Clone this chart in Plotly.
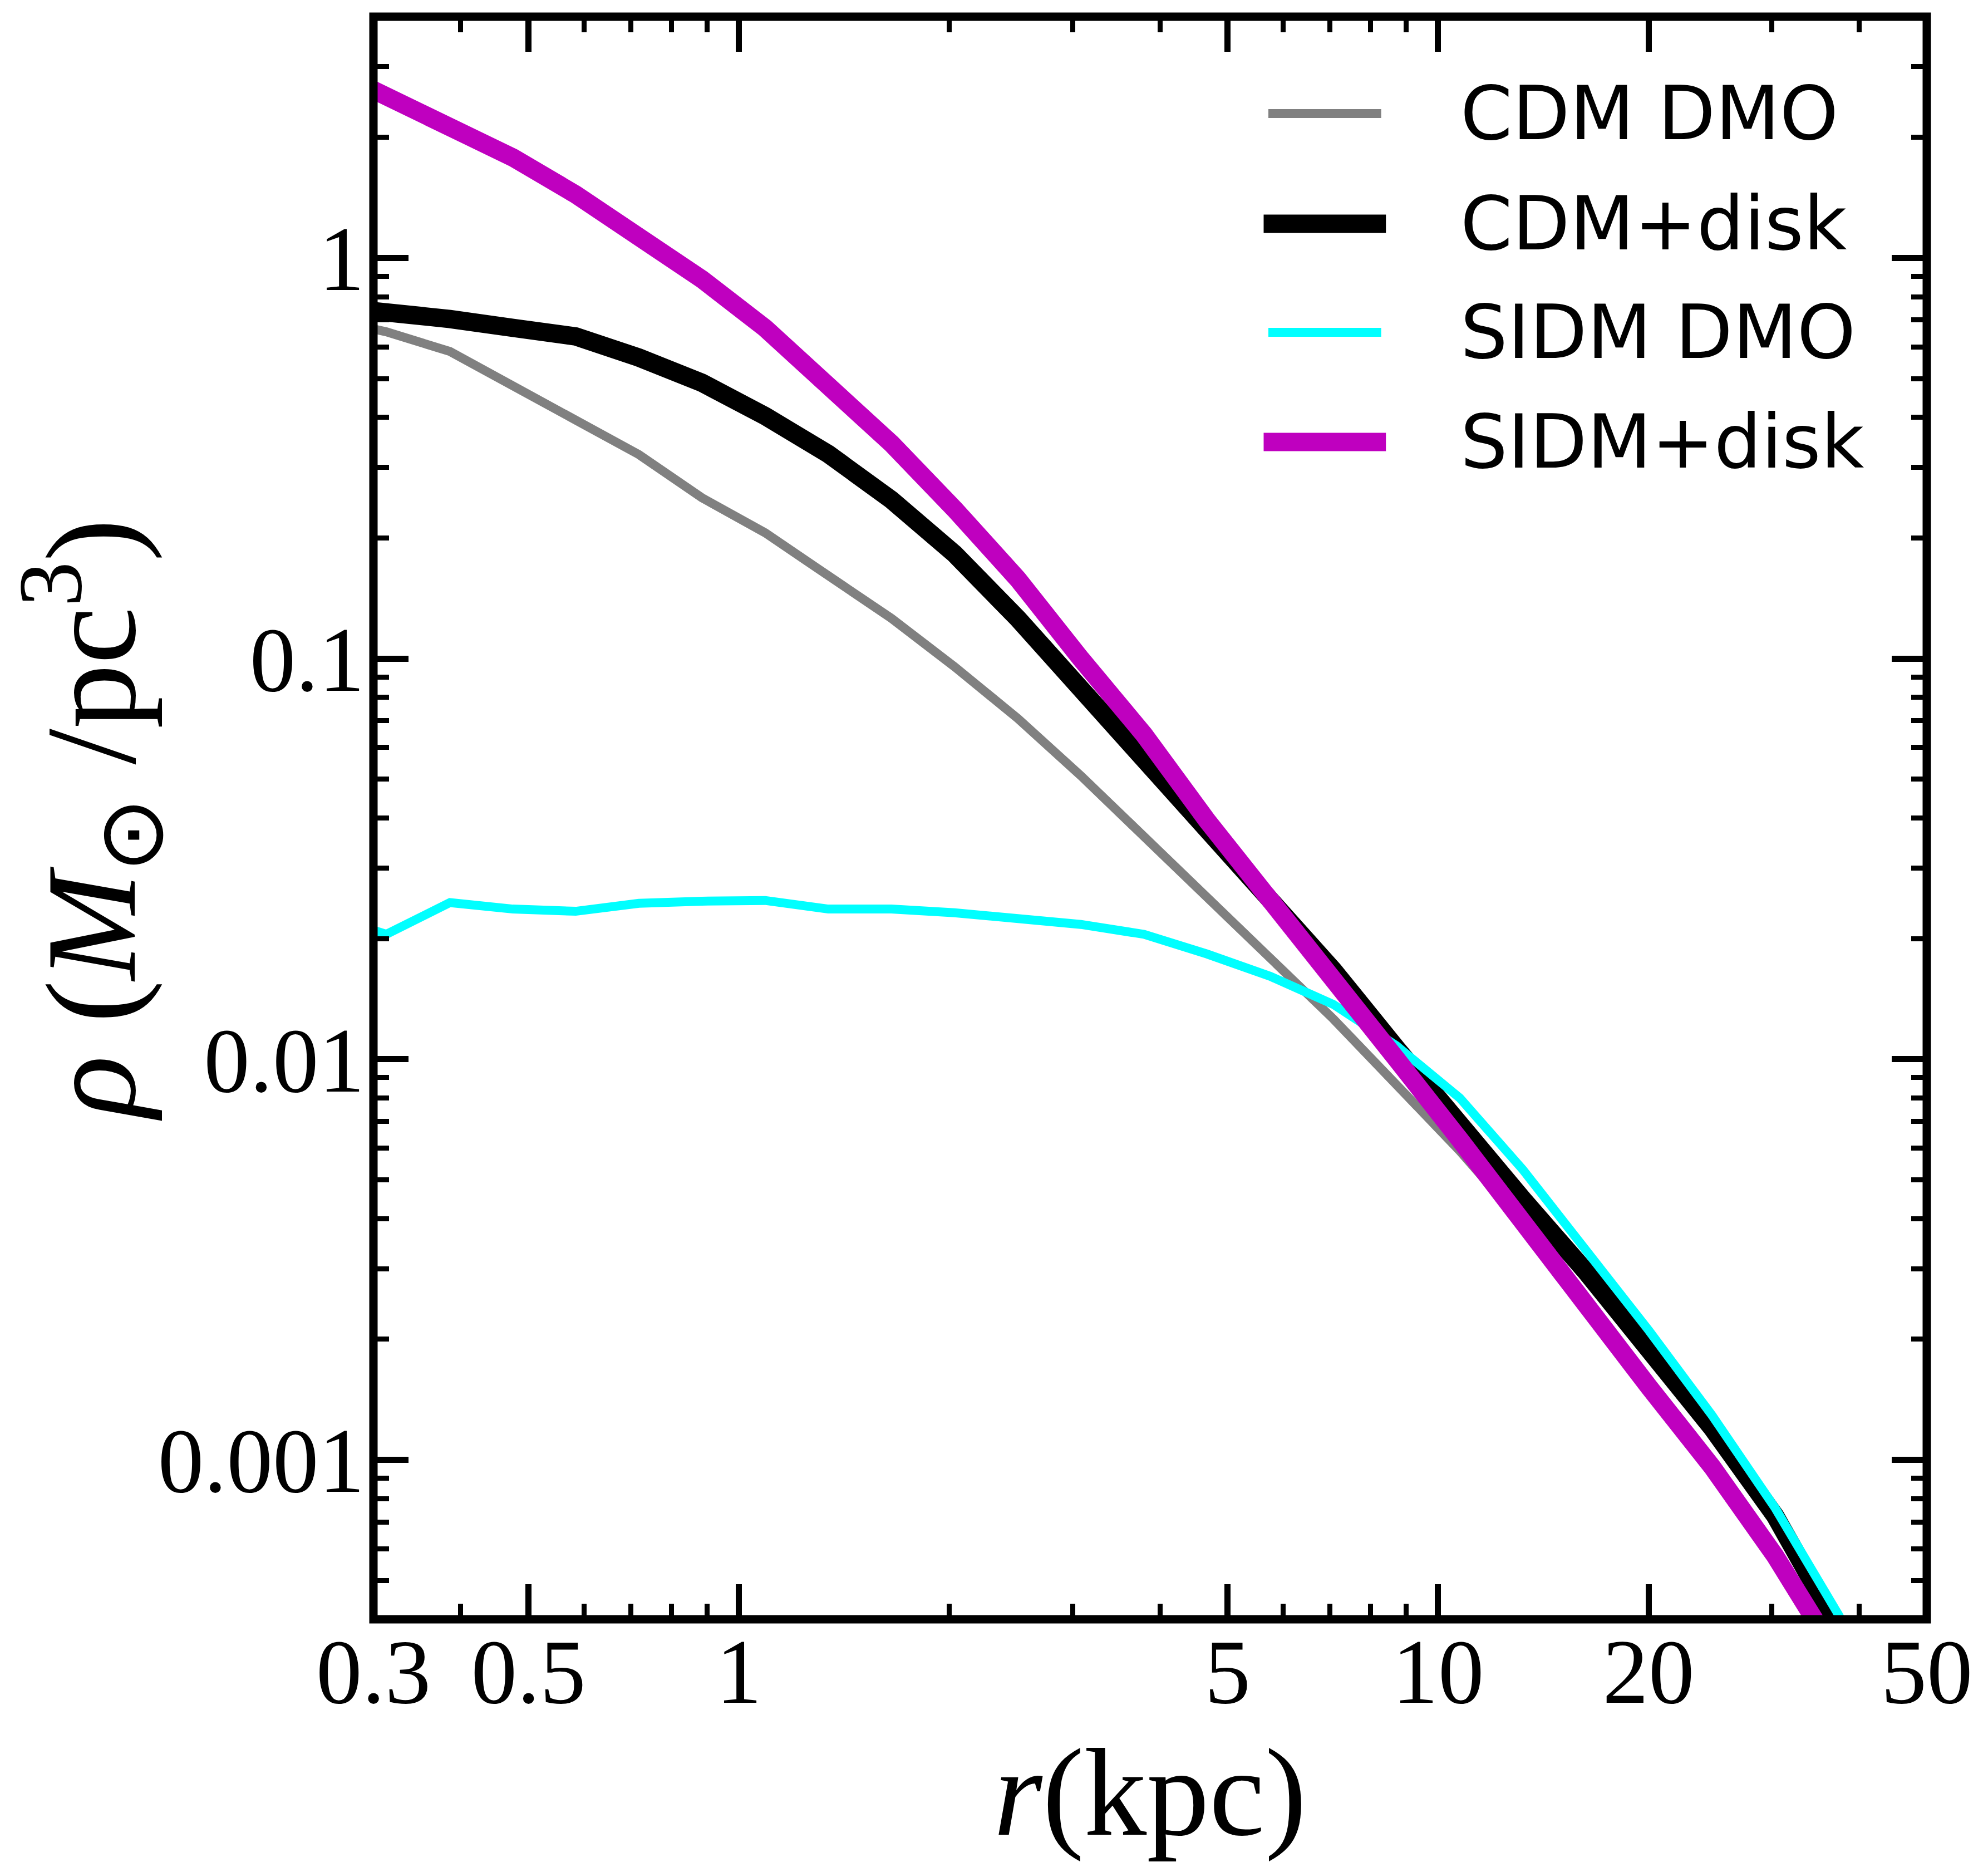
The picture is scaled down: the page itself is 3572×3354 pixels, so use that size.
import plotly.graph_objects as go

# radii (kpc) of the profile bins
r_kpc = [0.254, 0.313, 0.386, 0.475, 0.584, 0.719, 0.885, 1.090, 1.342, 1.652,
         2.034, 2.504, 3.083, 3.796, 4.673, 5.754, 7.083, 8.720, 10.74, 13.22,
         16.27, 20.03, 24.66, 30.36, 37.37, 46.02]

# densities (Msun / pc^3)
cdm_dmo = [0.708, 0.654, 0.584, 0.480, 0.398, 0.323, 0.252, 0.206, 0.161, 0.126,
           0.0954, 0.0709, 0.0510, 0.0361, 0.0254, 0.0178, 0.0126, 0.00863, 0.0059,
           0.0039, 0.0025, 0.00158, 0.0010, 0.0006, 0.00033, 0.000166]
cdm_disk = [0.759, 0.738, 0.704, 0.669, 0.637, 0.564, 0.488, 0.403, 0.324, 0.249,
            0.1825, 0.1259, 0.0841, 0.0575, 0.0384, 0.0256, 0.01667, 0.01064, 0.00676,
            0.00447, 0.00295, 0.00191, 0.00120, 0.000724, 0.00038, 0.000178]
sidm_dmo = [0.0230, 0.0205, 0.0246, 0.0237, 0.0234, 0.0245, 0.0248, 0.0249, 0.0237, 0.0237,
            0.0232, 0.02235, 0.0217, 0.0205, 0.0183, 0.0161, 0.0137, 0.0108, 0.0080,
            0.0053, 0.00336, 0.0021, 0.00129, 0.000757, 0.000411, 0.00021]
sidm_disk = [3.02, 2.54, 2.12, 1.78, 1.44, 1.14, 0.885, 0.668, 0.481, 0.344,
             0.236, 0.158, 0.0999, 0.0646, 0.0394, 0.0252, 0.0158, 0.0100, 0.0063,
             0.00389, 0.0024, 0.00152, 0.00096, 0.000575, 0.00032, 0.00016]

series_names = ["CDM DMO", "CDM+disk", "SIDM DMO", "SIDM+disk"]
series_values = [cdm_dmo, cdm_disk, sidm_dmo, sidm_disk]
series_colors = ["#808080", "#000000", "#00ffff", "#bf00bf"]
series_widths = [16, 33, 16, 33]

x_tickvals = [0.3, 0.5, 1, 5, 10, 20, 50]
x_ticktext = ["0.3", "0.5", "1", "5", "10", "20", "50"]
x_minor = [0.4, 0.6, 0.7, 0.8, 0.9, 2, 3, 4, 6, 7, 8, 9, 30, 40]
y_tickvals = [0.001, 0.01, 0.1, 1]
y_ticktext = ["0.001", "0.01", "0.1", "1"]
y_minor = [5e-4, 6e-4, 7e-4, 8e-4, 9e-4,
           2e-3, 3e-3, 4e-3, 5e-3, 6e-3, 7e-3, 8e-3, 9e-3,
           0.02, 0.03, 0.04, 0.05, 0.06, 0.07, 0.08, 0.09,
           0.2, 0.3, 0.4, 0.5, 0.6, 0.7, 0.8, 0.9, 2, 3]

fig = go.Figure()
for name, vals, col, w in zip(series_names, series_values, series_colors, series_widths):
    fig.add_trace(go.Scatter(x=r_kpc, y=vals, mode="lines", name=name,
                             line=dict(color=col, width=w)))

SERIF = "Liberation Serif"
tickfont = dict(family=SERIF, size=165, color="black")

common = dict(type="log", showgrid=False, zeroline=False, showline=False,
              ticks="inside", mirror="ticks", tickcolor="black",
              ticklen=63, tickwidth=11, tickfont=tickfont)

fig.update_xaxes(**common,
                 range=[-0.52288, 1.69897],
                 tickmode="array", tickvals=x_tickvals, ticktext=x_ticktext,
                 minor=dict(tickmode="array", tickvals=x_minor, ticks="inside",
                            ticklen=28, tickwidth=9, tickcolor="black", showgrid=False),
                 ticklabelstandoff=-16,
                 title=dict(text="<i>r</i>(kpc)", font=dict(family=SERIF, size=225, color="black"),
                            standoff=28))
fig.update_yaxes(**common,
                 range=[-3.39794, 0.60206],
                 tickmode="array", tickvals=y_tickvals, ticktext=y_ticktext,
                 minor=dict(tickmode="array", tickvals=y_minor, ticks="inside",
                            ticklen=28, tickwidth=9, tickcolor="black", showgrid=False),
                 ticklabelstandoff=15,
                 title=dict(text="<i>ρ</i> (<i>M</i><sub>⊙</sub> /pc<sup>3</sup>)",
                            font=dict(family=SERIF, size=232, color="black"),
                            standoff=30))

# frame (spines)
fig.add_shape(type="rect", xref="paper", yref="paper", x0=0, x1=1, y0=0, y1=1,
              line=dict(color="black", width=15), layer="above")

# legend drawn by hand so the sample lines keep the true line widths
leg_rows_y = [0.9396, 0.8708, 0.8031, 0.7346]
for name, col, w, yy in zip(series_names, series_colors, series_widths, leg_rows_y):
    half_cap = w / 2 / 2791
    fig.add_shape(type="line", xref="paper", yref="paper",
                  x0=0.5790 - half_cap, x1=0.6459 + half_cap, y0=yy, y1=yy,
                  line=dict(color=col, width=w), layer="above")
    fig.add_annotation(xref="paper", yref="paper", x=0.6991, y=yy,
                       xanchor="left", yanchor="middle", showarrow=False,
                       text=name, font=dict(family="DejaVu Sans", size=134, color="black"))

fig.update_layout(
    width=3572, height=3354,
    margin=dict(l=671, r=110, t=30, b=445, autoexpand=False),
    paper_bgcolor="white", plot_bgcolor="white",
    showlegend=False,
)

fig.write_html("out.html")
